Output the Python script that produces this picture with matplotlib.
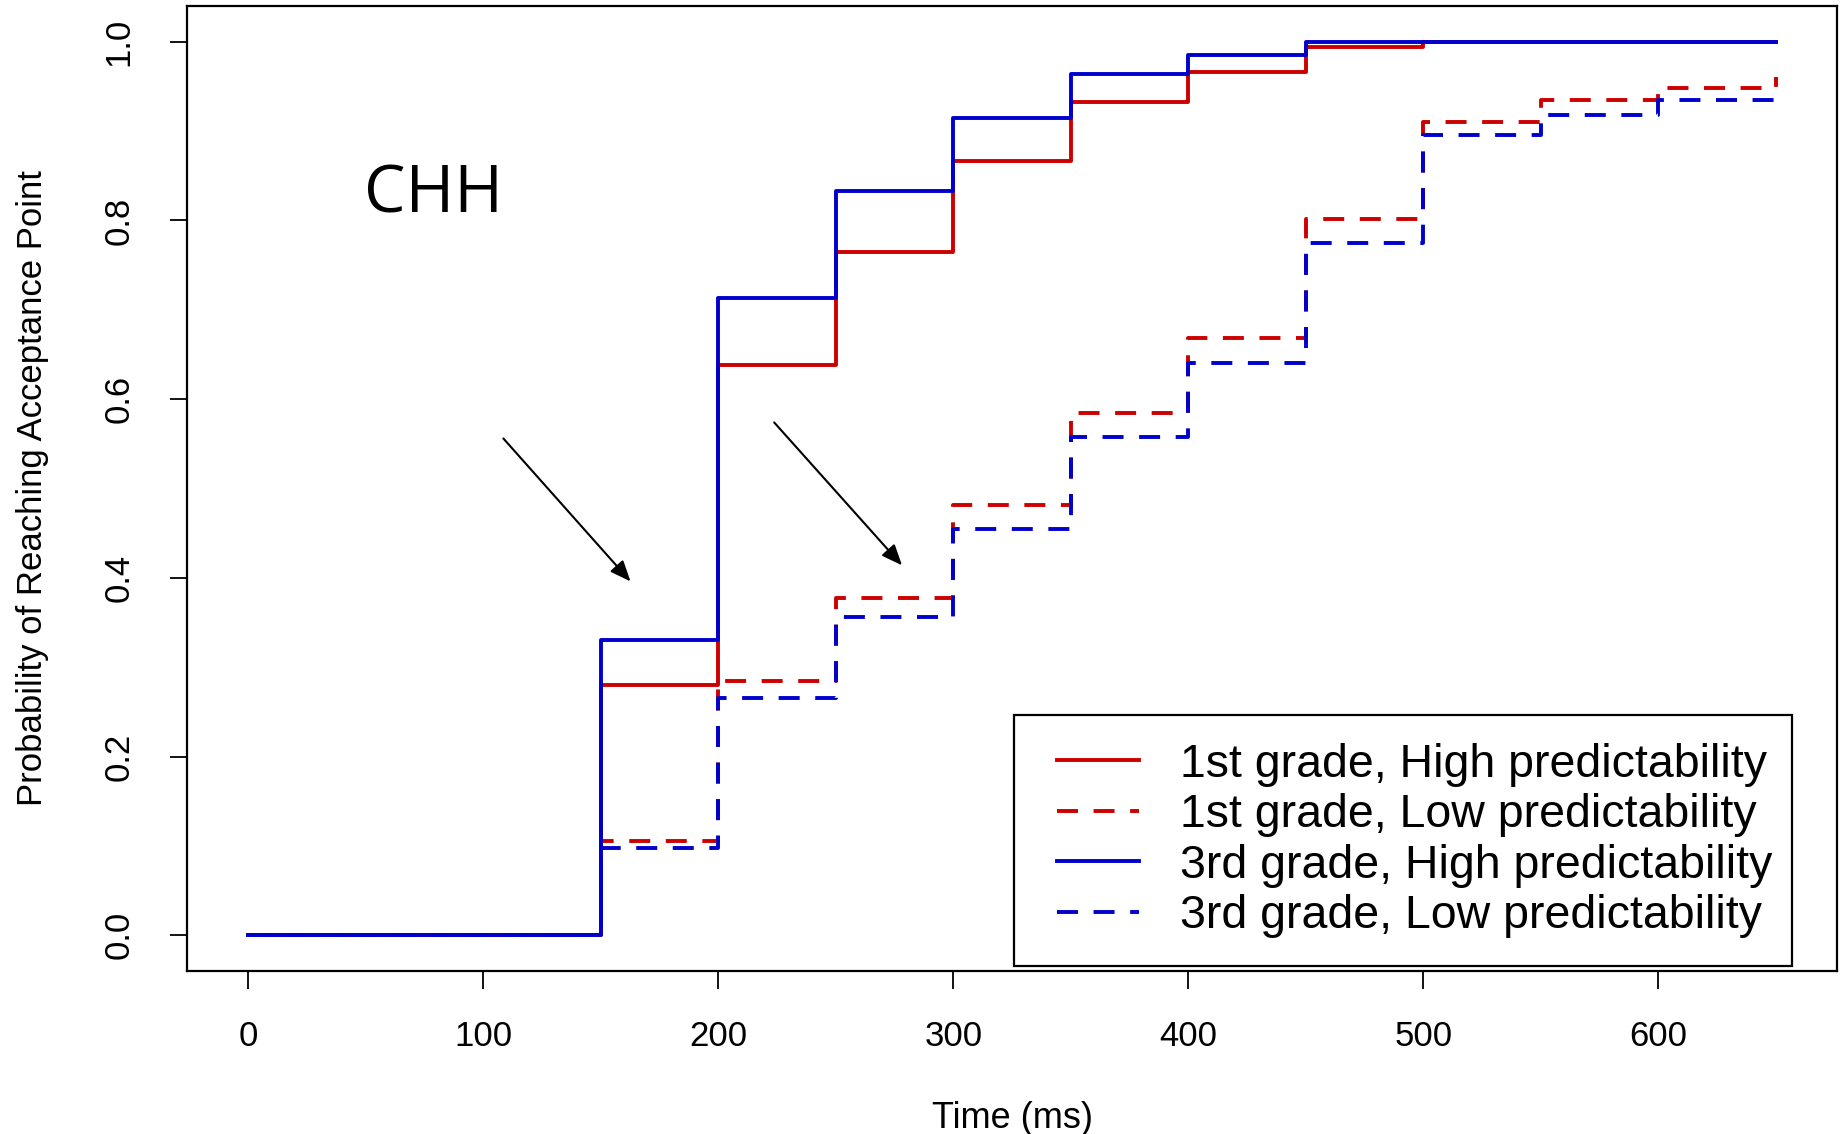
import numpy as np
import matplotlib.pyplot as plt
from matplotlib.lines import Line2D
from matplotlib.legend_handler import HandlerLine2D

# ---- Data ----
time_ms = [0, 50, 100, 150, 200, 250, 300, 350, 400, 450, 500, 550, 600, 650]
first_high = [0, 0, 0, 0.280, 0.638, 0.765, 0.866, 0.933, 0.966, 0.994, 1.0, 1.0, 1.0, 1.0]
first_low = [0, 0, 0, 0.105, 0.285, 0.378, 0.482, 0.585, 0.668, 0.802, 0.910, 0.935, 0.948, 0.961]
third_high = [0, 0, 0, 0.331, 0.713, 0.833, 0.915, 0.964, 0.985, 1.0, 1.0, 1.0, 1.0, 1.0]
third_low = [0, 0, 0, 0.098, 0.265, 0.356, 0.455, 0.558, 0.641, 0.775, 0.896, 0.918, 0.935, 0.935]

labels = ['1st grade, High predictability', '1st grade, Low predictability',
          '3rd grade, High predictability', '3rd grade, Low predictability']

# arrows: (start, tip) in data units
arrows = [((108.6, 0.556), (162.7, 0.396)),
          ((223.8, 0.574), (278.2, 0.414))]

xticks = [0, 100, 200, 300, 400, 500, 600]
yticks = [0.0, 0.2, 0.4, 0.6, 0.8, 1.0]

RED = '#CD0000'
BLUE = '#0000CD'
font = 'Liberation Sans'

# ---- Plot ----
W, H = 1843, 1134
fig = plt.figure(figsize=(W / 100, H / 100), dpi=100)
L, R, T, B = 187, 1837, 6, 971
ax = fig.add_axes([L / W, 1 - B / H, (R - L) / W, (B - T) / H])

lw = 2.8
dash = (5.4, 4)
ax.step(time_ms, first_high, where='post', color=RED, lw=lw, label=labels[0])
ax.step(time_ms, first_low, where='post', color=RED, lw=lw, dashes=dash, label=labels[1])
ax.step(time_ms, third_high, where='post', color=BLUE, lw=lw, label=labels[2])
ax.step(time_ms, third_low, where='post', color=BLUE, lw=lw, dashes=dash, label=labels[3])

ax.set_xlim(-26, 676)
ax.set_ylim(-0.04, 1.04)

ax.set_xticks(xticks)
ax.set_xticklabels([str(t) for t in xticks], fontsize=25, family=font)
ax.set_yticks(yticks)
ax.set_yticklabels([f'{t:.1f}' for t in yticks], fontsize=25, family=font,
                   rotation=90, va='center')
ax.tick_params(axis='x', length=13, width=1.3, pad=22)
ax.tick_params(axis='y', length=12, width=1.3, pad=25)
for s in ax.spines.values():
    s.set_linewidth(1.6)

ax.set_xlabel('Time (ms)', fontsize=26, family=font)
ax.xaxis.set_label_coords(0.5, (B - 1119) / (B - T))
ax.xaxis.label.set_va('center')
ax.set_ylabel('Probability of Reaching Acceptance Point', fontsize=25, family=font)
ax.yaxis.set_label_coords((33 - L) / (R - L), 0.5)
ax.yaxis.label.set_va('center')

ax.text(49.5, 0.828, 'CHH', fontsize=47.5, family='Open Sans', ha='left', va='center')

for start, tip in arrows:
    ax.annotate('', xy=tip, xytext=start,
                arrowprops=dict(arrowstyle='-|>,head_length=0.6,head_width=0.25',
                                color='black', lw=1.5, mutation_scale=21,
                                shrinkA=0, shrinkB=0))

leg = ax.legend(loc='lower left', mode='expand',
                bbox_to_anchor=((1014 - L) / (R - L), (B - 966) / (B - T), 778 / (R - L), 0),
                borderaxespad=0, prop={'family': font, 'size': 33.5},
                handlelength=2.09, handletextpad=0.88, borderpad=0.6,
                labelspacing=0.14, fancybox=False, framealpha=1,
                handler_map={Line2D: HandlerLine2D(xpad=0.33)})
leg.get_frame().set_edgecolor('black')
leg.get_frame().set_linewidth(1.6)

fig.savefig('out.png', dpi=100)
